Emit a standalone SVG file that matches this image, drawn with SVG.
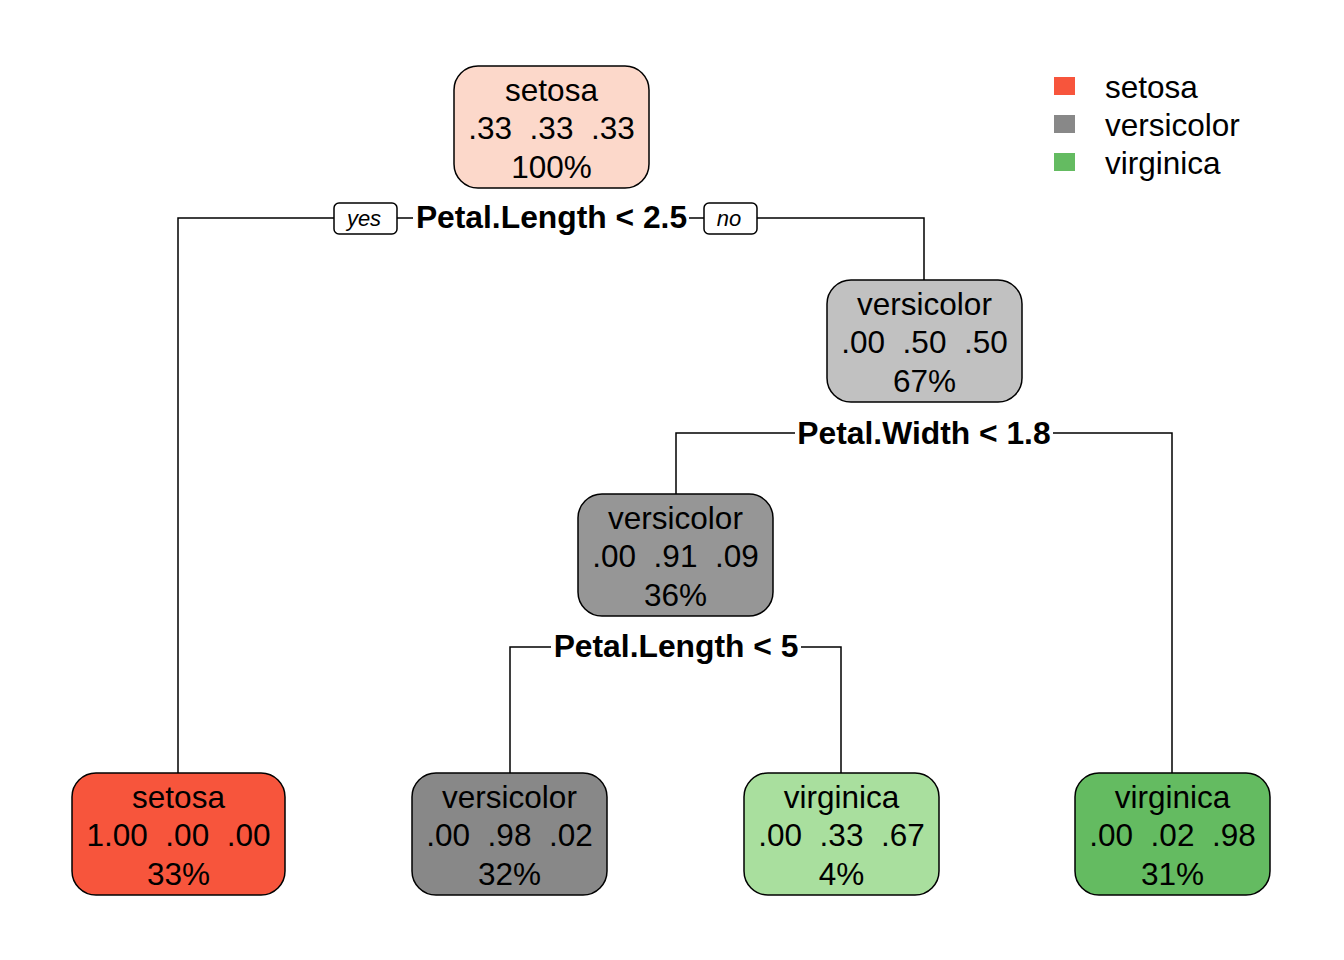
<svg xmlns="http://www.w3.org/2000/svg" width="1344" height="960" viewBox="0 0 1344 960">
<style>
.node rect{stroke:#000;stroke-width:1.5}
.nt{font-family:"Liberation Sans",Arial,sans-serif;font-size:31.5px;text-anchor:middle;fill:#000}
.sp{font-family:"Liberation Sans",Arial,sans-serif;font-size:31.8px;font-weight:bold;text-anchor:middle;fill:#000}
.yn{font-family:"Liberation Sans",Arial,sans-serif;font-size:22px;font-style:italic;text-anchor:middle;fill:#000}
.lg{font-family:"Liberation Sans",Arial,sans-serif;font-size:31.5px;fill:#000}
#connectors path{fill:none;stroke:#000;stroke-width:1.5}
</style>
<rect width="1344" height="960" fill="#fff"/>
<g id="connectors">
<path d="M178,773 V218 H334"/>
<path d="M397,218 H413"/>
<path d="M689,218 H704"/>
<path d="M757,218 H924 V280"/>
<path d="M676,494 V433 H795"/>
<path d="M1053,433 H1172 V773"/>
<path d="M510,773 V647 H551"/>
<path d="M801,647 H841 V773"/>
<rect x="334" y="203" width="63" height="31" rx="5" fill="#fff" stroke="#000" stroke-width="1.5"/>
<rect x="704" y="203" width="53" height="31" rx="5" fill="#fff" stroke="#000" stroke-width="1.5"/>
<text class="yn" x="364" y="226">yes</text>
<text class="yn" x="729" y="226">no</text>
<text class="sp" x="551.5" y="228">Petal.Length &lt; 2.5</text>
<text class="sp" x="924" y="444">Petal.Width &lt; 1.8</text>
<text class="sp" x="676" y="657">Petal.Length &lt; 5</text>
</g>
<g id="node1" class="node">
<rect x="454" y="66" width="195" height="122" rx="24" fill="#FCD8CA"/>
<text class="nt" x="551.5" y="101">setosa</text>
<text class="nt" x="551.5" y="139" xml:space="preserve">.33  .33  .33</text>
<text class="nt" x="551.5" y="178">100%</text>
</g>
<g id="node2" class="node">
<rect x="827" y="280" width="195" height="122" rx="24" fill="#C1C1C1"/>
<text class="nt" x="924.5" y="315">versicolor</text>
<text class="nt" x="924.5" y="353" xml:space="preserve">.00  .50  .50</text>
<text class="nt" x="924.5" y="392">67%</text>
</g>
<g id="node3" class="node">
<rect x="578" y="494" width="195" height="122" rx="24" fill="#969696"/>
<text class="nt" x="675.5" y="529">versicolor</text>
<text class="nt" x="675.5" y="567" xml:space="preserve">.00  .91  .09</text>
<text class="nt" x="675.5" y="606">36%</text>
</g>
<g id="leaf_setosa" class="node">
<rect x="72" y="773" width="213" height="122" rx="24" fill="#F7553C"/>
<text class="nt" x="178.5" y="808">setosa</text>
<text class="nt" x="178.5" y="846" xml:space="preserve">1.00  .00  .00</text>
<text class="nt" x="178.5" y="885">33%</text>
</g>
<g id="leaf_versicolor" class="node">
<rect x="412" y="773" width="195" height="122" rx="24" fill="#888888"/>
<text class="nt" x="509.5" y="808">versicolor</text>
<text class="nt" x="509.5" y="846" xml:space="preserve">.00  .98  .02</text>
<text class="nt" x="509.5" y="885">32%</text>
</g>
<g id="leaf_virginica4" class="node">
<rect x="744" y="773" width="195" height="122" rx="24" fill="#A9DF9E"/>
<text class="nt" x="841.5" y="808">virginica</text>
<text class="nt" x="841.5" y="846" xml:space="preserve">.00  .33  .67</text>
<text class="nt" x="841.5" y="885">4%</text>
</g>
<g id="leaf_virginica31" class="node">
<rect x="1075" y="773" width="195" height="122" rx="24" fill="#64BB61"/>
<text class="nt" x="1172.5" y="808">virginica</text>
<text class="nt" x="1172.5" y="846" xml:space="preserve">.00  .02  .98</text>
<text class="nt" x="1172.5" y="885">31%</text>
</g>
<g id="legend">
<rect x="1054" y="77" width="21" height="18" fill="#F7553C"/>
<rect x="1054" y="115" width="21" height="18" fill="#888888"/>
<rect x="1054" y="153" width="21" height="18" fill="#64BB61"/>
<text class="lg" x="1105" y="98">setosa</text>
<text class="lg" x="1105" y="136">versicolor</text>
<text class="lg" x="1105" y="174">virginica</text>
</g>
</svg>
